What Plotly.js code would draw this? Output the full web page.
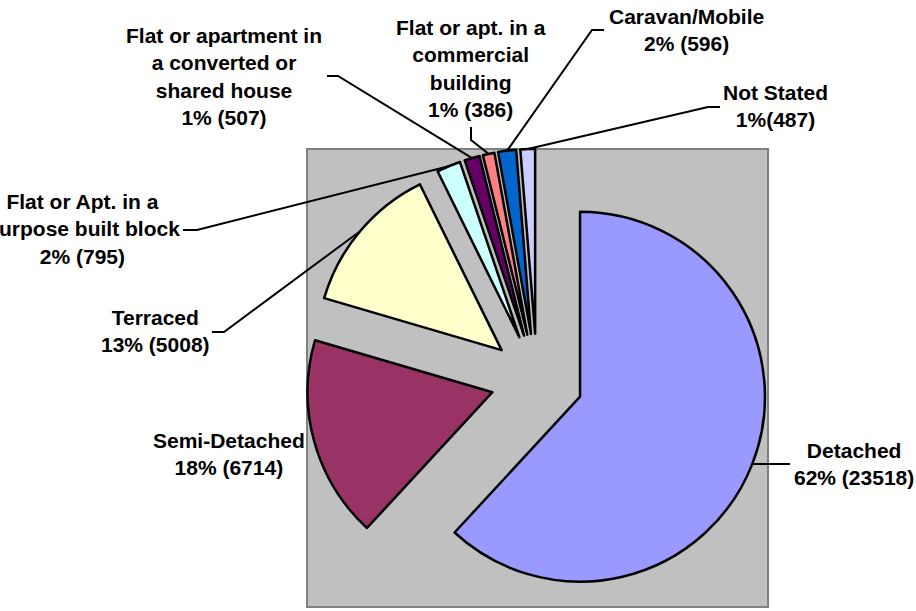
<!DOCTYPE html>
<html>
<head>
<meta charset="utf-8">
<script src="https://cdn.plot.ly/plotly-3.0.1.min.js"></script>
<style>
html, body { margin: 0; padding: 0; background: #ffffff; }
#chart { width: 916px; height: 611px; }
</style>
</head>
<body>
<div id="chart"></div>
<script>
// ---- data ----
var categories = [
  "Detached",
  "Semi-Detached",
  "Terraced",
  "Flat or Apt. in a Purpose built block",
  "Flat or apartment in a converted or shared house",
  "Flat or apt. in a commercial building",
  "Caravan/Mobile",
  "Not Stated"
];
var values = [23518, 6714, 5008, 795, 507, 386, 596, 487];
var labelLines = [
  "Detached",
  "Semi-Detached",
  "Terraced",
  "Flat or Apt. in a<br>Purpose built block",
  "Flat or apartment in<br>a converted or<br>shared house",
  "Flat or apt. in a<br>commercial<br>building",
  "Caravan/Mobile",
  "Not Stated"
];
var pctSeparators = [" ", " ", " ", " ", " ", " ", " ", ""];
var sliceColors = ["#9999FF", "#993366", "#FFFFCC", "#CCFFFF", "#660066", "#FF8080", "#0066CC", "#CCCCFF"];

// ---- layout / styling ----
var W = 916, H = 611;
var pull = 0.25;
// pie box in pixels
var boxX0 = 305.75, boxX1 = 768.25, boxY0 = 148.75, boxY1 = 611;
var domX = [boxX0 / W, boxX1 / W];
var domY = [1 - boxY1 / H, 1 - boxY0 / H];

// label anchor positions (pixels) and leader stub points (pixels)
var labelPos = [[854, 464], [229, 454], [155.5, 331.5], [82, 229], [224, 76], [471, 68.5], [686, 30], [775, 106]];
var stubs = [
  [[790, 464]],
  null,
  [[212, 332], [224, 332]],
  [[183, 230], [197, 230]],
  [[327, 76], [338, 76]],
  [[471, 127], [471, 140]],
  [[604, 30], [592, 30]],
  [[720, 107], [708, 107]]
];

function px(x) { return x / W; }
function py(y) { return 1 - y / H; }

var total = values.reduce(function (a, b) { return a + b; }, 0);
var boxW = boxX1 - boxX0, boxH = boxY1 - boxY0;
var r = Math.min(boxW, boxH) / 2 / (1 + pull);
var cx = (boxX0 + boxX1) / 2;
var cy = boxY1 - boxH / 2;

var annotations = [];
var shapes = [{
  type: "rect", xref: "paper", yref: "paper", layer: "below",
  x0: px(307), x1: px(768), y0: py(607), y1: py(149),
  fillcolor: "#C0C0C0", line: { color: "#808080", width: 2 }
}];

var cum = 0;
for (var i = 0; i < values.length; i++) {
  var mid = (cum + values[i] / 2) / total * 2 * Math.PI;
  cum += values[i];
  var pct = Math.round(values[i] / total * 100);
  annotations.push({
    xref: "paper", yref: "paper",
    x: px(labelPos[i][0]), y: py(labelPos[i][1]),
    xanchor: "center", yanchor: "middle", align: "center",
    showarrow: false,
    text: labelLines[i] + "<br>" + pct + "%" + pctSeparators[i] + "(" + values[i] + ")",
    font: { family: "Liberation Sans, Arial, sans-serif", size: 21, color: "#000000", weight: 700 }
  });
  if (stubs[i]) {
    var ex = cx + r * (1 + pull) * Math.sin(mid);
    var ey = cy - r * (1 + pull) * Math.cos(mid);
    var pts = stubs[i].concat([[ex, ey]]);
    var d = pts.map(function (p, k) { return (k === 0 ? "M " : " L ") + px(p[0]) + " " + py(p[1]); }).join("");
    shapes.push({
      type: "path", xref: "paper", yref: "paper", layer: "above",
      path: d, line: { color: "#000000", width: 2 }
    });
  }
}

var trace = {
  type: "pie",
  labels: categories,
  values: values,
  sort: false,
  direction: "clockwise",
  rotation: 0,
  pull: pull,
  textinfo: "none",
  textposition: "none",
  automargin: false,
  showlegend: false,
  hoverinfo: "label+value+percent",
  domain: { x: domX, y: domY },
  marker: { colors: sliceColors, line: { color: "#000000", width: 2.5 } }
};

var layout = {
  width: W, height: H,
  margin: { l: 0, r: 0, t: 0, b: 0, pad: 0 },
  paper_bgcolor: "#FFFFFF",
  showlegend: false,
  shapes: shapes,
  annotations: annotations
};

Plotly.newPlot("chart", [trace], layout, { displayModeBar: false, staticPlot: true });
</script>
</body>
</html>
